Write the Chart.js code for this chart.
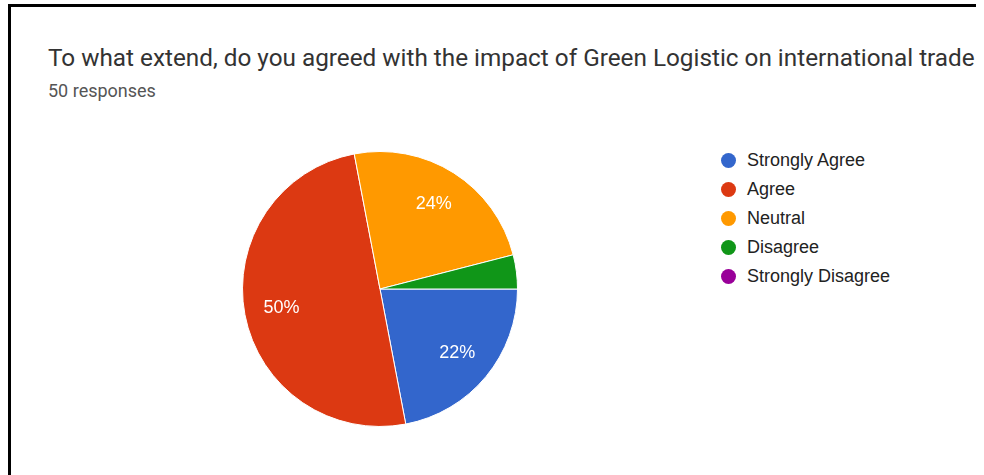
<!DOCTYPE html>
<html>
<head>
<meta charset="utf-8">
<script src="https://cdn.jsdelivr.net/npm/chart.js@4/dist/chart.umd.min.js"></script>
<style>
  html, body { margin: 0; padding: 0; background: #fff; }
  body { width: 984px; height: 475px; position: relative; overflow: hidden; }
  .frame {
    position: absolute; left: 8px; top: 4px; width: 965px; height: 480px;
    border-left: 3px solid #000; border-top: 3px solid #000;
  }
  .title {
    position: absolute; left: 48px; top: 43px; white-space: nowrap;
    font-family: Roboto, sans-serif; font-size: 24.3px; color: #333;
  }
  .sub {
    position: absolute; left: 48px; top: 80px; white-space: nowrap;
    font-family: Roboto, sans-serif; font-size: 18px; color: #555;
  }
  .pie-wrap { position: absolute; left: 242px; top: 151px; width: 276px; height: 276px; }
  #legend {
    position: absolute; left: 721px; top: 146px; margin: 0; padding: 0; list-style: none;
    font-family: "Liberation Sans", Arial, sans-serif; font-size: 18px; color: #222;
  }
  #legend li { display: flex; align-items: center; height: 29px; }
  #legend .dot { width: 15px; height: 15px; border-radius: 50%; margin-right: 11px; }
</style>
</head>
<body>
<div class="frame"></div>
<div class="title">To what extend, do you agreed with the impact of Green Logistic on international trade</div>
<div class="sub">50 responses</div>
<div class="pie-wrap"><canvas id="pie"></canvas></div>
<ul id="legend"></ul>

<script>
// answers and counts out of 50 responses
const answers = ['Strongly Agree', 'Agree', 'Neutral', 'Disagree', 'Strongly Disagree'];
const counts = [11, 25, 12, 2, 0];
const colors = ['#3366cc', '#dc3912', '#ff9900', '#109618', '#990099'];

// percentage text inside each slice, placed ~73% of the way out
const sliceLabels = {
  id: 'sliceLabels',
  afterDatasetsDraw(chart) {
    const { ctx } = chart;
    const meta = chart.getDatasetMeta(0);
    const total = counts.reduce((a, b) => a + b, 0);
    ctx.save();
    ctx.font = '18px "Liberation Sans", Arial, sans-serif';
    ctx.fillStyle = '#fff';
    ctx.textAlign = 'center';
    ctx.textBaseline = 'middle';
    meta.data.forEach((arc, i) => {
      const pct = Math.round(counts[i] / total * 100);
      if (pct < 5) return;
      const { x, y, startAngle, endAngle, outerRadius } = arc.getProps(['x', 'y', 'startAngle', 'endAngle', 'outerRadius'], true);
      const mid = (startAngle + endAngle) / 2;
      const r = outerRadius * 0.73;
      ctx.fillText(pct + '%', x + Math.cos(mid) * r, y + Math.sin(mid) * r);
    });
    ctx.restore();
  }
};

// legend list built from the chart's own legend items
const htmlLegend = {
  id: 'htmlLegend',
  afterUpdate(chart) {
    const ul = document.getElementById('legend');
    const items = chart.options.plugins.legend.labels.generateLabels(chart);
    ul.innerHTML = items.map(it =>
      `<li><span class="dot" style="background:${it.fillStyle}"></span>${it.text}</li>`
    ).join('');
  }
};

new Chart(document.getElementById('pie'), {
  type: 'pie',
  data: {
    labels: answers,
    datasets: [{
      data: counts,
      backgroundColor: colors,
      borderColor: '#fff',
      borderWidth: 1
    }]
  },
  options: {
    responsive: true,
    maintainAspectRatio: false,
    animation: false,
    rotation: 90,
    events: [],
    layout: { padding: 0 },
    plugins: {
      legend: { display: false },
      tooltip: { enabled: false }
    }
  },
  plugins: [sliceLabels, htmlLegend]
});
</script>
</body>
</html>
